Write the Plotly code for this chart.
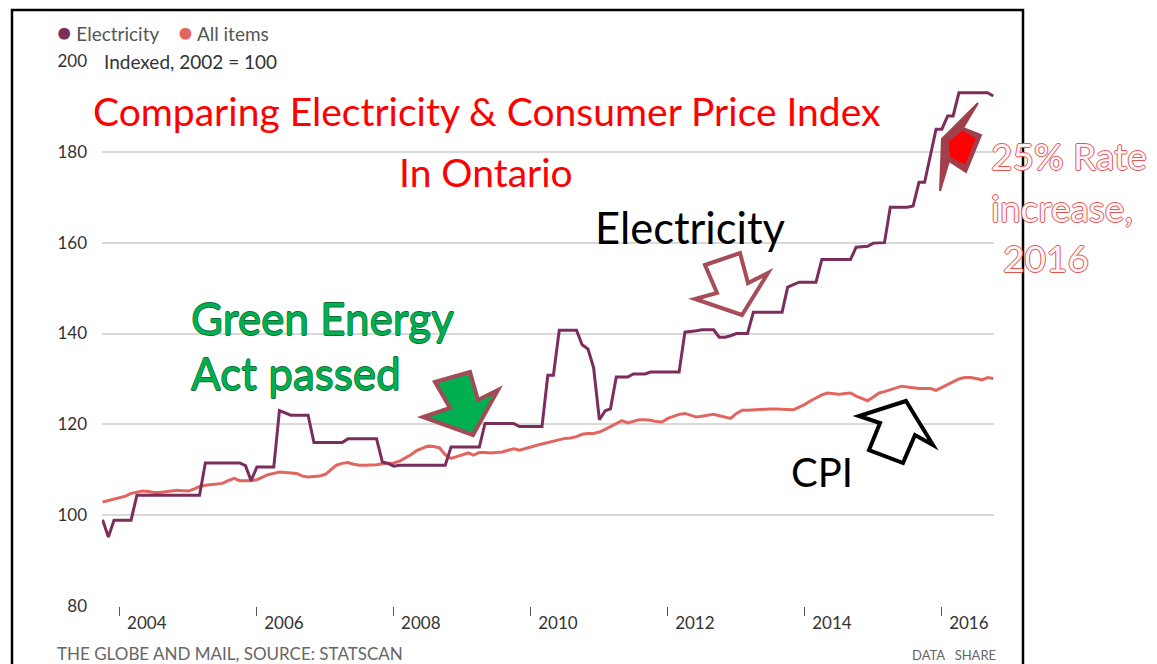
import pandas as pd
import plotly.graph_objects as go

# ---------------- data (monthly, Oct 2003 - Oct 2016, indexed 2002 = 100) -------------
start_month = "2003-10-01"
electricity = [
    99.0, 95.2, 98.9, 98.9, 98.9, 98.9, 104.4,
    104.4, 104.4, 104.4, 104.4, 104.4, 104.4, 104.4, 104.4, 104.4, 104.4, 104.4,
    111.5, 111.5, 111.5, 111.5, 111.5, 111.5, 111.5,
    110.9, 107.6, 110.6, 110.6, 110.6, 110.6,
    123.0, 122.4, 122.0, 122.0, 122.0, 122.0,
    116.0, 116.0, 116.0, 116.0, 116.0, 116.0,
    116.8, 116.8, 116.8, 116.8, 116.8, 116.8,
    111.7, 111.4, 110.8,
    111.0, 111.0, 111.0, 111.0, 111.0, 111.0, 111.0, 111.0, 111.0,
    115.0, 115.0, 115.0, 115.0, 115.0, 115.0,
    120.2, 120.2, 120.2, 120.2, 120.2, 120.2,
    119.5, 119.5, 119.5, 119.5, 119.5,
    130.8, 130.8,
    140.7, 140.7, 140.7, 140.7,
    137.5, 136.6, 132.5, 121.0, 123.0, 123.4,
    130.4, 130.4, 130.4,
    131.1, 131.1, 131.1,
    131.5, 131.5, 131.5, 131.5, 131.5, 131.5,
    140.3, 140.4, 140.6, 140.8, 140.8, 140.8,
    139.2, 139.2, 139.5, 140.0, 140.0, 140.0,
    144.7, 144.7, 144.7, 144.7, 144.7, 144.7,
    150.2, 150.8, 151.3, 151.3, 151.3, 151.3,
    156.3, 156.3, 156.3, 156.3, 156.3, 156.3,
    159.0, 159.1, 159.2, 159.9, 160.0, 160.0,
    167.8, 167.8, 167.8, 167.8,
    168.1, 173.3, 173.3, 179.0, 185.0, 185.0,
    187.9, 187.9,
    193.0, 193.0, 193.0, 193.0, 193.0, 193.0,
    192.3,
]
all_items = [
    102.9, 103.2, 103.5, 103.8, 104.2, 104.8, 105.1, 105.3, 105.2, 105.0,
    105.0, 105.2, 105.3, 105.5, 105.4, 105.3, 105.8, 106.3, 106.6, 106.7,
    106.8, 107.0, 107.6, 108.1, 107.6, 107.6, 107.6, 107.8, 108.4, 108.9,
    109.2, 109.5, 109.4, 109.3, 109.2, 108.6, 108.4, 108.5, 108.6, 109.0,
    110.0, 111.0, 111.4, 111.6, 111.2, 111.0, 111.0, 111.0, 111.1, 111.3,
    111.4, 111.5, 111.9, 112.5, 113.3, 114.2, 114.8, 115.2, 115.1, 114.8,
    113.3, 112.5, 112.9, 113.3, 113.7, 113.2, 113.8, 113.8, 113.7, 113.8,
    113.9, 114.3, 114.6, 114.3, 114.6, 115.0, 115.4, 115.7, 116.0, 116.3,
    116.6, 116.9, 117.0, 117.3, 117.8, 118.0, 118.0, 118.3, 118.9, 119.5,
    120.3, 120.8, 120.3, 120.6, 121.0, 121.0, 120.9, 120.6, 120.5, 121.3,
    121.8, 122.2, 122.4, 122.0, 121.6, 121.8, 122.0, 122.2, 121.9, 121.6,
    121.3, 122.4, 123.1, 123.1, 123.2, 123.2, 123.3, 123.4, 123.4, 123.3,
    123.2, 123.2, 123.8, 124.4, 125.2, 125.9, 126.5, 126.9, 126.7, 126.6,
    126.8, 126.9, 126.2, 125.6, 125.2, 126.0, 126.9, 127.2, 127.6, 128.0,
    128.4, 128.2, 128.0, 127.9, 127.9, 127.9, 127.5, 128.1, 128.7, 129.3,
    130.0, 130.3, 130.3, 130.1, 129.8, 130.3, 130.1,
]
series_names = ["Electricity", "All items"]
y_ticks = [80, 100, 120, 140, 160, 180, 200]

months = pd.date_range(start_month, periods=len(electricity), freq="MS")

ELEC_C = "#7b2d5c"
CPI_C = "#e0665f"
FONT = "Lato"

# ---------------- layout geometry -----------------
# The page body has an 8px margin, so the figure is drawn 8px smaller and offset.
OFF = 8
W_FIG, H_FIG = 1157 - OFF, 664 - OFF
# plot area in screen pixels
SX0, SY0, PW, PH = 102, 61, 892, 545


def P(x, y):
    """screen pixel -> paper coords"""
    return (x - SX0) / PW, (SY0 + PH - y) / PH


def path(points):
    s = ""
    for i, (x, y) in enumerate(points):
        px, py = P(x, y)
        s += ("M" if i == 0 else "L") + f"{px:.5f},{py:.5f} "
    return s + "Z"


fig = go.Figure()
fig.add_trace(go.Scatter(x=months, y=all_items, mode="lines", name=series_names[1],
                         line=dict(color=CPI_C, width=3), showlegend=False))
fig.add_trace(go.Scatter(x=months, y=electricity, mode="lines", name=series_names[0],
                         line=dict(color=ELEC_C, width=3), showlegend=False))

shapes = []
# frame
fx0, fy1 = P(12, 10)
fx1, fy0 = P(1023, 700)
shapes.append(dict(type="rect", xref="paper", yref="paper", x0=fx0, x1=fx1, y0=fy0, y1=fy1,
                   line=dict(color="black", width=2.5), fillcolor="rgba(0,0,0,0)", layer="above"))
# green arrow
shapes.append(dict(type="path", xref="paper", yref="paper",
                   path=path([(435, 382), (470, 372), (478, 400), (498, 390), (473, 435), (423, 417), (450, 408)]),
                   fillcolor="#00b050", line=dict(color="#a24a55", width=4), layer="above"))
# hollow arrow near Electricity
shapes.append(dict(type="path", xref="paper", yref="paper",
                   path=path([(705, 265), (740, 253), (748, 283), (768, 273), (742, 315), (695, 299), (717, 293)]),
                   fillcolor="white", line=dict(color="#a64d5a", width=4), layer="above"))
# black arrow near CPI
shapes.append(dict(type="path", xref="paper", yref="paper",
                   path=path([(906, 401), (933, 445), (915, 435), (903, 463), (869, 450), (880, 423), (859, 416)]),
                   fillcolor="white", line=dict(color="black", width=4), layer="above"))
# red arrow 2016
shapes.append(dict(type="path", xref="paper", yref="paper",
                   path=path([(978, 103), (963, 128), (981, 135), (966, 172), (949, 161), (940, 191), (942, 139)]),
                   fillcolor="#a0404c", line=dict(color="#a0404c", width=2), layer="above"))
shapes.append(dict(type="path", xref="paper", yref="paper",
                   path=path([(963, 131), (975, 139), (965, 164), (951, 157), (949, 142)]),
                   fillcolor="#ff0000", line=dict(color="#ff0000", width=1), layer="above"))

annotations = []


def ann(text, x, y, size, color, xanchor="left", yanchor="middle", **kw):
    ax, ay = P(x, y)
    font = dict(family=FONT, size=size, color=color)
    if "shadow" in kw:
        font["shadow"] = kw.pop("shadow")
    annotations.append(dict(text=text, x=ax, y=ay, xref="paper", yref="paper",
                            xanchor=xanchor, yanchor=yanchor, showarrow=False,
                            font=font, **kw))


ann(f'<span style="color:{ELEC_C};font-size:24px">●</span> {series_names[0]}'
    f'&nbsp;&nbsp;&nbsp;&nbsp;<span style="color:{CPI_C};font-size:24px">●</span> {series_names[1]}',
    55, 31, 19, "#555555")
ann("Indexed, 2002 = 100", 101, 61, 19, "#333333", bgcolor="white", borderpad=2)
ann("Comparing Electricity &amp; Consumer Price Index", 486, 111, 39, "#ff0000", xanchor="center")
ann("In Ontario", 486, 172, 39, "#ff0000", xanchor="center")
ann("Electricity", 593, 227, 43.5, "black")
green_sh = "0.6px 0 #0d6b35, -0.6px 0 #0d6b35, 0 0.6px #0d6b35, 0 -0.6px #0d6b35"
ann("Green Energy", 189, 318, 44, "#00b050", shadow=green_sh)
ann("Act passed", 189, 373, 44, "#00b050", shadow=green_sh)
ann("CPI", 789, 472, 40, "black")
red_sh = "1px 0 #e05555, -1px 0 #e05555, 0 1px #e05555, 0 -1px #e05555"
ann("25% Rate", 989, 156, 37, "#fff4f4", shadow=red_sh)
ann("increase,", 989, 207, 37, "#fff4f4", shadow=red_sh)
ann("2016", 1001, 257, 37, "#fff4f4", shadow=red_sh)
ann("THE GLOBE AND MAIL, SOURCE: STATSCAN", 55, 653, 17, "#666666")
ann("DATA&nbsp;&nbsp;&nbsp;SHARE", 998, 655, 13, "#666666", xanchor="right")

fig.update_layout(
    width=W_FIG, height=H_FIG,
    margin=dict(l=SX0 - OFF, r=W_FIG - (SX0 - OFF) - PW, t=SY0 - OFF,
                b=H_FIG - (SY0 - OFF) - PH, autoexpand=False),
    paper_bgcolor="white", plot_bgcolor="white",
    showlegend=False,
    shapes=shapes, annotations=annotations,
    font=dict(family=FONT, color="#333333"),
    xaxis=dict(range=["2003-09-28", "2016-10-05"], showgrid=False, zeroline=False,
               tickmode="linear", tick0="2004-01-01", dtick="M24", tickformat="%Y",
               ticks="outside", ticklen=9, tickwidth=1, tickcolor="#555555",
               showline=False, ticklabelshift=27, ticklabelstandoff=-7,
               tickfont=dict(family=FONT, size=17, color="#333333")),
    yaxis=dict(range=[80, 200], tickvals=y_ticks, showgrid=True, gridcolor="#d9d9d9",
               gridwidth=1.5, zeroline=False, showline=False, ticks="",
               ticklabelstandoff=14,
               tickfont=dict(family=FONT, size=17, color="#333333")),
)

fig.write_html("out.html")
